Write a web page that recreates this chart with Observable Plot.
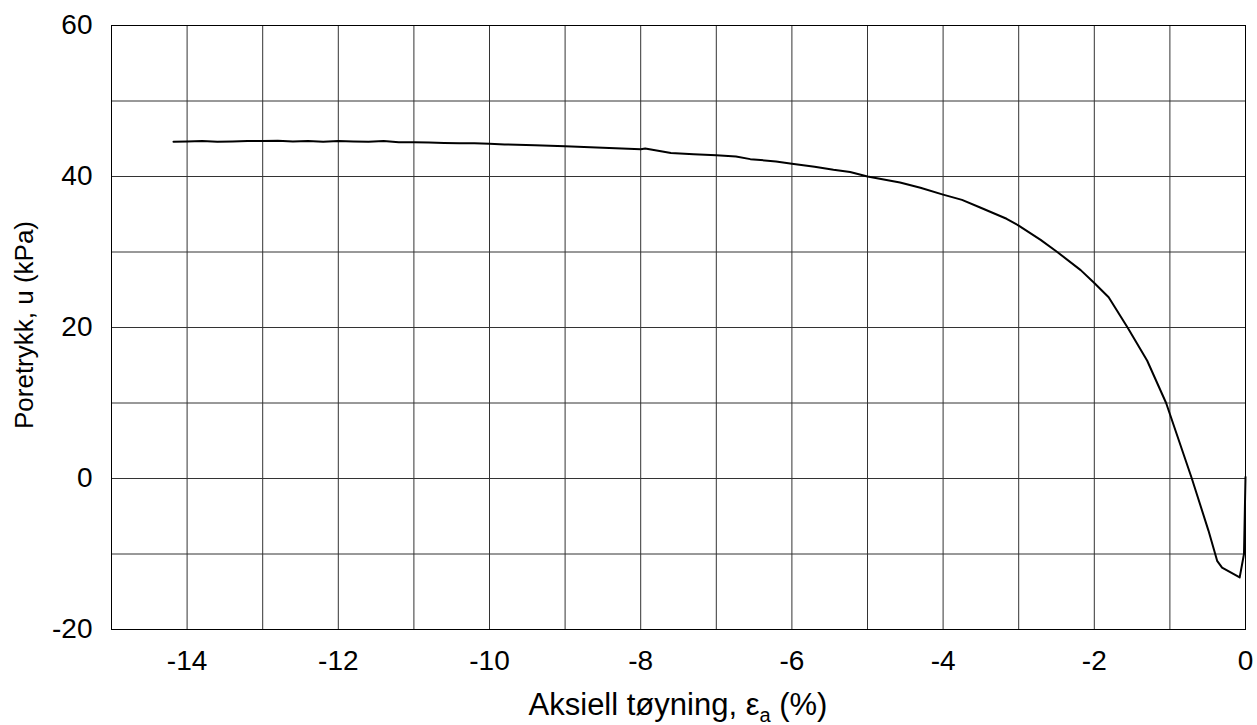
<!DOCTYPE html>
<html>
<head>
<meta charset="utf-8">
<script src="https://cdn.jsdelivr.net/npm/d3@7"></script>
<script src="https://cdn.jsdelivr.net/npm/@observablehq/plot@0.6"></script>
<style>
  html, body { margin: 0; padding: 0; background: #fff; }
  #chart svg { display: block; }
</style>
</head>
<body>
<div id="chart"></div>
<script>
// Axial strain (%) and pore pressure (kPa)
const strain = [-14.18, -14.0, -13.8, -13.6, -13.4, -13.2, -13.0, -12.8, -12.6, -12.4, -12.2, -12.0,
  -11.8, -11.6, -11.4, -11.2, -11.0, -10.8, -10.6, -10.4, -10.2, -10.0, -9.8, -9.4, -9.0, -8.5,
  -8.0, -7.94, -7.6, -7.3, -7.0, -6.74, -6.55, -6.21, -6.0, -5.7, -5.45, -5.23, -5.0, -4.57, -4.3,
  -4.0, -3.75, -3.51, -3.16, -3.0, -2.71, -2.49, -2.18, -2.0, -1.81, -1.56, -1.3, -1.05, -0.71,
  -0.49, -0.375, -0.31, -0.077, -0.02, 0.0];
const porePressure = [44.6, 44.65, 44.7, 44.6, 44.65, 44.7, 44.7, 44.75, 44.65, 44.7, 44.6, 44.7,
  44.65, 44.6, 44.7, 44.55, 44.55, 44.5, 44.45, 44.4, 44.4, 44.35, 44.25, 44.15, 44.0, 43.8,
  43.6, 43.7, 43.1, 42.95, 42.8, 42.65, 42.3, 42.0, 41.7, 41.3, 40.9, 40.6, 40.0, 39.2, 38.5,
  37.6, 36.9, 35.9, 34.4, 33.5, 31.6, 30.0, 27.6, 25.9, 24.0, 20.0, 15.6, 10.0, 0.0,
  -6.9, -10.9, -11.8, -13.1, -10.0, 0.2];

const xTickLabels = [-14, -12, -10, -8, -6, -4, -2, 0];
const yTickLabels = [-20, 0, 20, 40, 60];
const xGrid = d3.range(-15, 1, 1);
const yGrid = d3.range(-20, 61, 10);

const data = strain.map((x, i) => ({x, y: porePressure[i]}));

const W = 1257, H = 725;
const mL = 111, mR = 12, mT = 25, mB = 96;

const chart = Plot.plot({
  width: W,
  height: H,
  marginLeft: mL,
  marginRight: mR,
  marginTop: mT,
  marginBottom: mB,
  style: {fontFamily: "'Liberation Sans', Arial, sans-serif", fontSize: "28px", color: "#000", background: "#fff"},
  x: {domain: [-15, 0], label: null},
  y: {domain: [-20, 60], label: null},
  marks: [
    Plot.gridX(xGrid, {stroke: "#333", strokeOpacity: 1, strokeWidth: 1}),
    Plot.gridY(yGrid, {stroke: "#333", strokeOpacity: 1, strokeWidth: 1}),
    Plot.axisX(xTickLabels, {tickSize: 0, tickPadding: 21, tickFormat: d => String(d), fontSize: 28, label: null}),
    Plot.axisY(yTickLabels, {tickSize: 0, tickPadding: 19, tickFormat: d => String(d), fontSize: 28, label: null}),
    Plot.frame({stroke: "#000", strokeWidth: 1}),
    Plot.line(data, {x: "x", y: "y", stroke: "#000", strokeWidth: 2})
  ]
});

const svg = d3.select(chart);
// X-axis title with subscript
const xt = svg.append("text")
  .attr("x", (mL + (W - mR)) / 2)
  .attr("y", 715)
  .attr("text-anchor", "middle")
  .attr("font-family", "'Liberation Sans', Arial, sans-serif")
  .attr("font-size", 31)
  .attr("fill", "#000");
xt.append("tspan").text("Aksiell tøyning, ε");
xt.append("tspan").attr("font-size", 20).attr("dy", 7).text("a");
xt.append("tspan").attr("dy", -7).text(" (%)");

// Y-axis title
svg.append("text")
  .attr("transform", "translate(33,325) rotate(-90)")
  .attr("text-anchor", "middle")
  .attr("font-family", "'Liberation Sans', Arial, sans-serif")
  .attr("font-size", 26)
  .attr("fill", "#000")
  .text("Poretrykk, u (kPa)");

document.getElementById("chart").appendChild(chart);
</script>
</body>
</html>
